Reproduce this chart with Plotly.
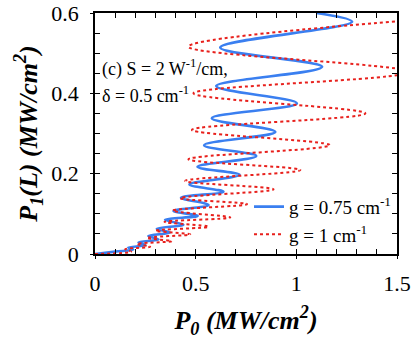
import plotly.graph_objects as go

# turning points (x = P0, y = P1(L)), both in MW/cm^2
blue_p0 = [0.0, 0.10, 0.19, 0.165, 0.25, 0.216, 0.315, 0.265, 0.373, 0.307,
           0.439, 0.348, 0.51, 0.390, 0.564, 0.427, 0.638, 0.469, 0.718, 0.509,
           0.801, 0.542, 0.896, 0.580, 1.003, 0.602, 1.128, 0.622, 1.277, 1.10]
blue_p1 = [0.0, 0.006, 0.011, 0.016, 0.022, 0.029, 0.036, 0.045, 0.053, 0.063,
           0.073, 0.085, 0.095, 0.107, 0.122, 0.140, 0.155, 0.173, 0.197, 0.217,
           0.244, 0.271, 0.304, 0.338, 0.375, 0.418, 0.466, 0.514, 0.578, 0.60]

red_p0 = [0.0, 0.18, 0.15, 0.274, 0.207, 0.381, 0.257, 0.473, 0.30, 0.564,
          0.345, 0.672, 0.386, 0.755, 0.423, 0.887, 0.448, 1.02, 0.464, 1.166,
          0.481, 1.343, 0.489, 1.56, 0.464, 1.64]
red_p1 = [0.0, 0.006, 0.012, 0.018, 0.025, 0.032, 0.040, 0.049, 0.058, 0.068,
          0.080, 0.091, 0.108, 0.124, 0.139, 0.161, 0.182, 0.209, 0.236, 0.271,
          0.309, 0.350, 0.400, 0.453, 0.516, 0.585]

note_lines = ['(c) S = 2 W<sup>-1</sup>/cm,', 'δ = 0.5 cm<sup>-1</sup>']

FONT = 'Liberation Serif'

fig = go.Figure()
fig.add_trace(go.Scatter(
    x=blue_p0, y=blue_p1, mode='lines', name='g = 0.75 cm<sup>-1</sup>',
    line=dict(color='#3a7ff0', width=2.6, shape='spline', smoothing=1.0),
))
fig.add_trace(go.Scatter(
    x=red_p0, y=red_p1, mode='lines', name='g = 1 cm<sup>-1</sup>',
    line=dict(color='#e8201c', width=2, dash='dot', shape='spline', smoothing=1.0),
))

# dummy trace so the second (overlay) axes exist for the crossing major ticks
fig.add_trace(go.Scatter(x=[None], y=[None], xaxis='x2', yaxis='y2',
                         showlegend=False, hoverinfo='skip'))

axis_common = dict(
    showline=True, linecolor='black', linewidth=1.5, mirror='ticks',
    ticks='inside', ticklen=5, tickwidth=1.2, tickcolor='black',
    showgrid=False, zeroline=False, automargin=False,
    tickfont=dict(family=FONT, size=22, color='black'),
)
overlay_common = dict(
    showticklabels=False, ticks='outside', ticklen=4, tickwidth=1.2,
    tickcolor='black', showgrid=False, zeroline=False, automargin=False,
)

fig.update_layout(
    width=415, height=350,
    margin=dict(l=95, r=18, t=13, b=96, autoexpand=False),
    plot_bgcolor='white', paper_bgcolor='white',
    font=dict(family=FONT, color='black'),
    xaxis=dict(
        range=[0, 1.5], tickvals=[0, 0.5, 1, 1.5],
        ticktext=['0', '0.5', '1', '1.5'], ticklabelstandoff=9,
        minor=dict(dtick=0.1, ticks='inside', ticklen=5, tickcolor='black'),
        title=dict(text='<b><i>P<sub>0</sub> (MW/cm<sup>2</sup>)</i></b>',
                   font=dict(family=FONT, size=26), standoff=16),
        **axis_common,
    ),
    yaxis=dict(
        range=[0, 0.6], tickvals=[0, 0.2, 0.4, 0.6],
        ticktext=['0', '0.2', '0.4', '0.6'], ticklabelstandoff=10,
        minor=dict(dtick=0.05, ticks='inside', ticklen=5, tickcolor='black'),
        title=dict(text='<b><i>P<sub>1</sub>(L) (MW/cm<sup>2</sup>)</i></b>',
                   font=dict(family=FONT, size=26), standoff=6),
        **axis_common,
    ),
    xaxis2=dict(overlaying='x', matches='x', side='bottom',
                tickvals=[0, 0.5, 1, 1.5], **overlay_common),
    yaxis2=dict(overlaying='y', matches='y', side='left',
                tickvals=[0, 0.2, 0.4, 0.6], **overlay_common),
    legend=dict(x=1.0, xanchor='right', y=0.275, yanchor='top',
                bgcolor='rgba(0,0,0,0)', font=dict(family=FONT, size=19),
                itemwidth=30, tracegroupgap=0),
    annotations=[
        dict(xref='paper', yref='paper', x=0.015, y=yy, xanchor='left',
             yanchor='middle', showarrow=False, align='left', text=txt,
             font=dict(family=FONT, size=18))
        for txt, yy in zip(note_lines, [0.772, 0.66])
    ],
)

# drop the default page margin so the figure sits at the window's corner
fig.write_html('out.html', config={'displayModeBar': False},
               post_script="document.body.style.margin = '0';")
